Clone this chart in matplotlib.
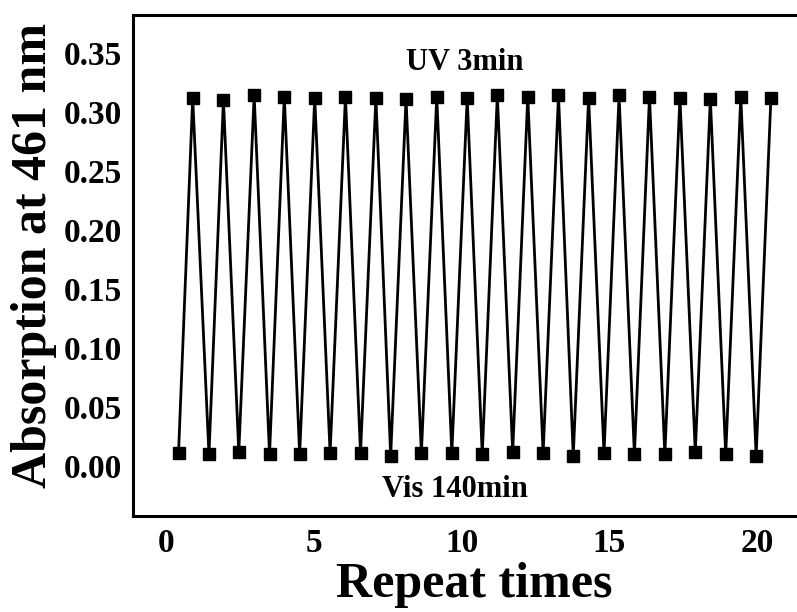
import matplotlib
matplotlib.use("Agg")
import matplotlib.pyplot as plt

# cycle positions
vis_x = [0.42, 1.45, 2.46, 3.50, 4.52, 5.55, 6.58, 7.60, 8.64, 9.67,
         10.70, 11.73, 12.76, 13.78, 14.82, 15.85, 16.88, 17.91, 18.94, 19.97]
vis_y = [0.011, 0.010, 0.012, 0.010, 0.010, 0.011, 0.011, 0.009, 0.011, 0.011,
         0.010, 0.012, 0.011, 0.009, 0.011, 0.010, 0.010, 0.012, 0.010, 0.009]
uv_x = [0.90, 1.94, 2.98, 4.00, 5.03, 6.07, 7.10, 8.12, 9.16, 10.19,
        11.21, 12.24, 13.28, 14.30, 15.33, 16.36, 17.39, 18.42, 19.45, 20.47]
uv_y = [0.312, 0.310, 0.314, 0.313, 0.312, 0.313, 0.312, 0.311, 0.313, 0.312,
        0.314, 0.313, 0.314, 0.312, 0.314, 0.313, 0.312, 0.311, 0.313, 0.312]

x_ticks = [0, 5, 10, 15, 20]
y_ticks = [0.00, 0.05, 0.10, 0.15, 0.20, 0.25, 0.30, 0.35]

plt.rcParams["font.family"] = ["Liberation Serif", "DejaVu Serif"]
plt.rcParams["font.weight"] = "bold"

xs, ys = [], []
for a, b, c, d in zip(vis_x, vis_y, uv_x, uv_y):
    xs += [a, c]
    ys += [b, d]

fig = plt.figure(figsize=(7.97, 6.12), dpi=100)
ax = fig.add_axes([0.1669, 0.157, 1.024 - 0.1669, 0.9755 - 0.157])
ax.plot(xs, ys, color="black", lw=2.0, marker="s", ms=8.5, mfc="black", mec="black")

ax.set_xlim(-1.12, 22)
ax.set_ylim(-0.042, 0.382)
ax.set_xticks(x_ticks)
ax.set_yticks(y_ticks)
ax.set_xticklabels([str(t) for t in x_ticks])
ax.set_yticklabels([f"{t:.2f}" for t in y_ticks])
ax.tick_params(length=0, labelsize=24)
ax.tick_params(axis="y", pad=8)
ax.tick_params(axis="x", pad=9)
for s in ax.spines.values():
    s.set_linewidth(2.2)

ax.set_xlabel("Repeat times", fontsize=36, fontweight="bold", labelpad=2)
ax.set_ylabel("Absorption at 461 nm", fontsize=36, fontweight="bold", labelpad=5, y=0.52)

ax.text(10.12, 0.342, "UV 3min", ha="center", va="center", fontsize=22, fontweight="bold")
ax.text(9.78, -0.020, "Vis 140min", ha="center", va="center", fontsize=22, fontweight="bold")

fig.savefig("out.png", dpi=100, facecolor="white")
